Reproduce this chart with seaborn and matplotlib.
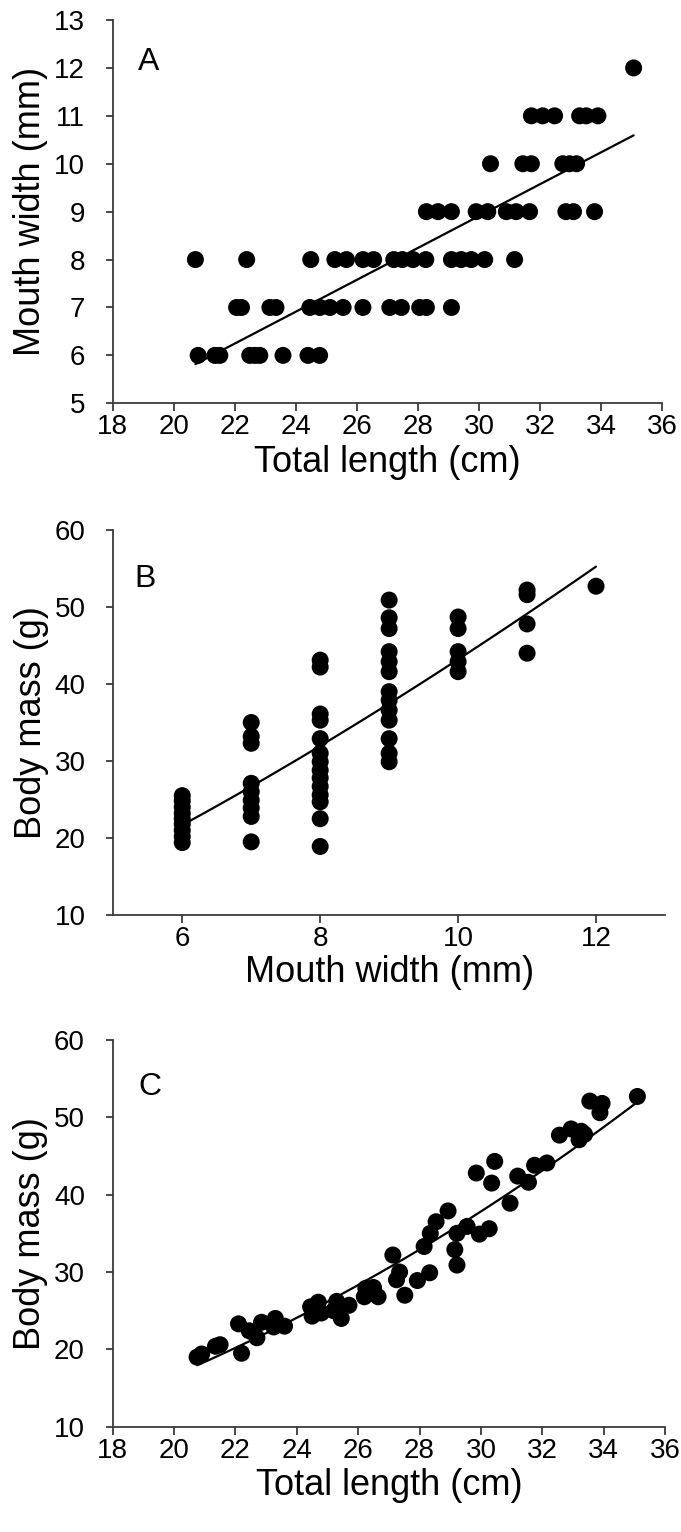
import numpy as np
import pandas as pd
import matplotlib
matplotlib.use("Agg")
import matplotlib.pyplot as plt
import seaborn as sns

# ---------------- Data ----------------
# Panel A: total length (cm) vs mouth width (mm)
a_len_mw6 = [20.80, 21.35, 21.51, 22.49, 22.66, 22.82, 23.58, 24.40, 24.78]
a_len_mw7 = [22.06, 22.22, 23.15, 23.35, 24.46, 24.79, 25.12, 25.55, 26.20,
             27.08, 27.46, 28.06, 28.28, 29.10]
a_len_mw8 = [20.71, 22.39, 24.49, 25.28, 25.66, 26.20, 26.55, 27.21, 27.49,
             27.84, 28.26, 29.10, 29.42, 29.75, 30.19, 31.17]
a_len_mw9 = [28.28, 28.66, 29.10, 29.91, 30.29, 30.90, 31.22, 31.66, 32.85,
             33.10, 33.79]
a_len_mw10 = [30.38, 31.44, 31.72, 32.75, 32.97, 33.20]
a_len_mw11 = [31.72, 32.09, 32.48, 33.30, 33.52, 33.90]
a_len_mw12 = [35.07]

# Panel B: mouth width (mm) vs body mass (g)
b_mass_mw6 = [19.4, 20.2, 21.0, 21.8, 22.5, 23.2, 24.0, 24.8, 25.5]
b_mass_mw7 = [19.5, 22.8, 23.9, 24.9, 26.0, 27.1, 32.3, 33.2, 35.0]
b_mass_mw8 = [18.9, 22.5, 24.7, 25.6, 26.7, 27.8, 28.8, 29.9, 31.0, 32.9,
              35.3, 36.1, 42.2, 43.1]
b_mass_mw9 = [29.9, 31.0, 32.9, 35.3, 36.6, 37.9, 39.0, 41.6, 42.9, 44.2,
              47.2, 48.6, 50.9]
b_mass_mw10 = [41.6, 42.9, 44.2, 47.2, 48.7]
b_mass_mw11 = [44.0, 47.8, 51.6, 52.2]
b_mass_mw12 = [52.7]

# Panel C: total length (cm) vs body mass (g)
c_length = [20.75, 20.90, 21.35, 21.50, 22.20, 22.10, 22.45, 22.70, 22.85,
            23.25, 23.30, 23.60, 24.45, 24.50, 24.70, 24.80, 25.20, 25.30,
            25.45, 25.70, 26.20, 26.25, 26.50, 26.65, 27.13, 27.25, 27.35,
            27.52, 27.93, 28.15, 28.33, 28.35, 28.54, 28.93, 29.15, 29.22,
            29.22, 29.55, 29.95, 30.27, 29.85, 30.45, 30.35, 30.95, 31.20,
            31.55, 31.75, 32.15, 32.56, 32.94, 33.20, 33.27, 33.38, 33.55,
            33.95, 33.88, 35.10]
c_mass = [19.0, 19.4, 20.4, 20.6, 19.5, 23.3, 22.4, 21.5, 23.5,
          22.9, 24.0, 23.0, 25.5, 24.3, 26.1, 24.7, 25.0, 26.2,
          24.0, 25.7, 26.8, 27.9, 28.0, 26.8, 32.2, 29.0, 30.0,
          27.0, 28.9, 33.3, 29.9, 35.0, 36.5, 37.9, 32.9, 30.9,
          35.0, 35.9, 34.9, 35.6, 42.8, 44.3, 41.5, 38.9, 42.4,
          41.6, 43.8, 44.1, 47.7, 48.5, 47.1, 48.2, 47.8, 52.1,
          51.8, 50.6, 52.7]

x_ticks_len = [18, 20, 22, 24, 26, 28, 30, 32, 34, 36]
y_ticks_a = [5, 6, 7, 8, 9, 10, 11, 12, 13]
x_ticks_b = [6, 8, 10, 12]
y_ticks_mass = [10, 20, 30, 40, 50, 60]

# ---------------- Build tables ----------------
a_groups = [(6, a_len_mw6), (7, a_len_mw7), (8, a_len_mw8), (9, a_len_mw9),
            (10, a_len_mw10), (11, a_len_mw11), (12, a_len_mw12)]
df_a = pd.DataFrame([(tl, mw) for mw, lst in a_groups for tl in lst],
                    columns=["length", "mouth"])
b_groups = [(6, b_mass_mw6), (7, b_mass_mw7), (8, b_mass_mw8), (9, b_mass_mw9),
            (10, b_mass_mw10), (11, b_mass_mw11), (12, b_mass_mw12)]
df_b = pd.DataFrame([(mw, m) for mw, lst in b_groups for m in lst],
                    columns=["mouth", "mass"])
df_c = pd.DataFrame({"length": c_length, "mass": c_mass})

# fitted trend lines (from the data)
ka, ca = np.polyfit(df_a["length"], df_a["mouth"], 1)
xa = np.linspace(df_a["length"].min(), df_a["length"].max(), 50)
fit_a = pd.DataFrame({"x": xa, "y": ka * xa + ca})

kb, cb = np.polyfit(np.log(df_b["mouth"]), np.log(df_b["mass"]), 1)
xb = np.linspace(df_b["mouth"].min(), df_b["mouth"].max(), 50)
fit_b = pd.DataFrame({"x": xb, "y": np.exp(cb) * xb ** kb})

kc, cc = np.polyfit(np.log(df_c["length"]), np.log(df_c["mass"]), 1)
xc = np.linspace(df_c["length"].min(), df_c["length"].max(), 80)
fit_c = pd.DataFrame({"x": xc, "y": np.exp(cc) * xc ** kc})

# ---------------- Plot ----------------
sns.set_theme(style="ticks")
plt.rcParams["font.family"] = ["Liberation Sans", "DejaVu Sans"]
plt.rcParams["text.color"] = "black"
plt.rcParams["axes.labelcolor"] = "black"

W, H = 681, 1532
fig = plt.figure(figsize=(W / 100, H / 100), dpi=100)
fig.patch.set_facecolor("white")

def rect(x0, x1, y_top, y_bot):
    return [x0 / W, 1 - y_bot / H, (x1 - x0) / W, (y_bot - y_top) / H]

ax_a = fig.add_axes(rect(112.7, 662.0, 20.0, 403.3))
ax_b = fig.add_axes(rect(113.3, 665.0, 530.0, 915.0))
ax_c = fig.add_axes(rect(112.7, 665.0, 1040.0, 1426.7))

spine_col = "#3a3a3a"
tick_fs = 20
label_fs = 26
letter_fs = 23
ms = 150

def style(ax):
    sns.despine(ax=ax)
    for s in ["left", "bottom"]:
        ax.spines[s].set_color(spine_col)
        ax.spines[s].set_linewidth(1.3)
    ax.tick_params(axis="both", direction="out", colors=spine_col,
                   width=1.3, labelsize=tick_fs, labelcolor="black")
    ax.tick_params(axis="x", length=6, pad=2)
    ax.tick_params(axis="y", length=5, pad=15)
    ax.set_facecolor("white")
    ax.grid(False)

# Panel A
sns.scatterplot(data=df_a, x="length", y="mouth", ax=ax_a, color="black",
                s=ms, edgecolor="none", linewidth=0, zorder=3)
sns.lineplot(data=fit_a, x="x", y="y", ax=ax_a, color="black", lw=1.6,
             zorder=4)
ax_a.set_xlim(18, 36)
ax_a.set_ylim(5, 13)
ax_a.set_xticks(x_ticks_len)
ax_a.set_yticks(y_ticks_a)
ax_a.set_xlabel("Total length (cm)", fontsize=label_fs)
ax_a.set_ylabel("Mouth width (mm)", fontsize=label_fs)
style(ax_a)
ax_a.text(0.046, 0.87, "A", transform=ax_a.transAxes, fontsize=letter_fs,
          va="baseline", ha="left", color="black")

# Panel B
sns.scatterplot(data=df_b, x="mouth", y="mass", ax=ax_b, color="black",
                s=ms, edgecolor="none", linewidth=0, zorder=3)
sns.lineplot(data=fit_b, x="x", y="y", ax=ax_b, color="black", lw=1.6,
             zorder=4)
ax_b.set_xlim(5, 13)
ax_b.set_ylim(10, 60)
ax_b.set_xticks(x_ticks_b)
ax_b.set_yticks(y_ticks_mass)
ax_b.set_xlabel("Mouth width (mm)", fontsize=label_fs)
ax_b.set_ylabel("Body mass (g)", fontsize=label_fs)
style(ax_b)
ax_b.text(0.039, 0.853, "B", transform=ax_b.transAxes, fontsize=letter_fs,
          va="baseline", ha="left", color="black")

# Panel C
sns.scatterplot(data=df_c, x="length", y="mass", ax=ax_c, color="black",
                s=ms, edgecolor="none", linewidth=0, zorder=3)
sns.lineplot(data=fit_c, x="x", y="y", ax=ax_c, color="black", lw=1.6,
             zorder=4)
ax_c.set_xlim(18, 36)
ax_c.set_ylim(10, 60)
ax_c.set_xticks(x_ticks_len)
ax_c.set_yticks(y_ticks_mass)
ax_c.set_xlabel("Total length (cm)", fontsize=label_fs)
ax_c.set_ylabel("Body mass (g)", fontsize=label_fs)
style(ax_c)
ax_c.text(0.046, 0.858, "C", transform=ax_c.transAxes, fontsize=letter_fs,
          va="baseline", ha="left", color="black")

for ax in (ax_a, ax_b, ax_c):
    ax.yaxis.set_label_coords(-0.117, 0.5)
ax_a.xaxis.set_label_coords(0.5, -0.11)
ax_b.xaxis.set_label_coords(0.5, -0.105)
ax_c.xaxis.set_label_coords(0.5, -0.108)

fig.savefig("out.png", dpi=100, facecolor="white")
